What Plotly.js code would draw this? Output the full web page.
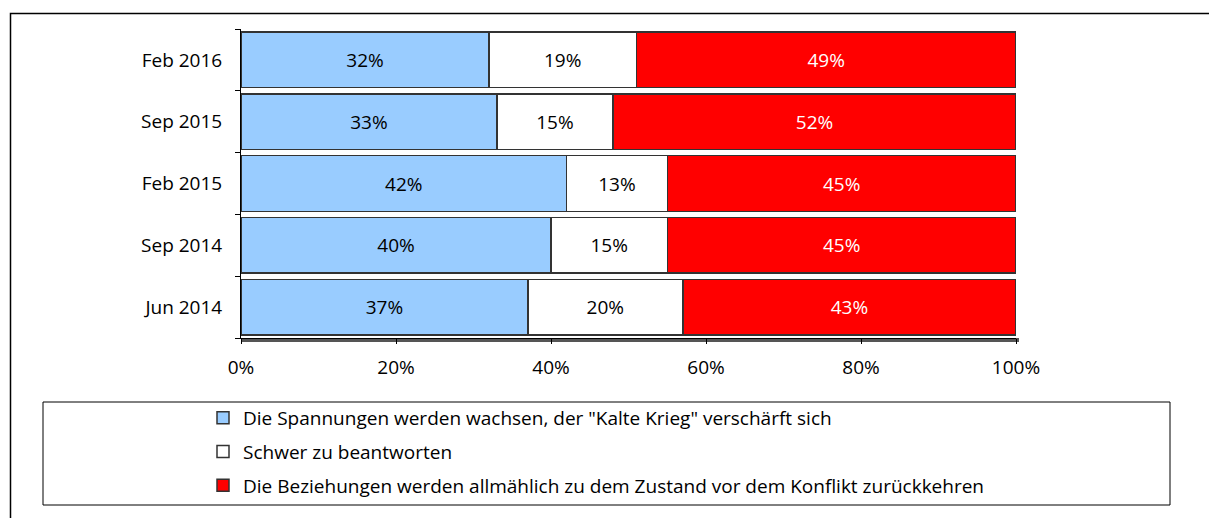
<!DOCTYPE html>
<html><head><meta charset="utf-8">
<script src="https://cdn.plot.ly/plotly-3.0.1.min.js"></script>
<style>body{margin:0;background:#fff}#c{width:1209px;height:518px}</style>
</head><body><div id="c"></div>
<script>
const categories = ["Feb 2016", "Sep 2015", "Feb 2015", "Sep 2014", "Jun 2014"];
const seriesNames = [
  "Die Spannungen werden wachsen, der \"Kalte Krieg\" verschärft sich",
  "Schwer zu beantworten",
  "Die Beziehungen werden allmählich zu dem Zustand vor dem Konflikt zurückkehren"
];
const spannungen = [32, 33, 42, 40, 37];
const schwer = [19, 15, 13, 15, 20];
const beziehungen = [49, 52, 45, 45, 43];
const xTickVals = [0, 20, 40, 60, 80, 100];
const xTickText = ["0%", "20%", "40%", "60%", "80%", "100%"];

const colors = ["#99CCFF", "#FFFFFF", "#FF0000"];
const textColors = ["#000000", "#000000", "#FFFFFF"];
const FONT = "Open Sans, sans-serif";
const FS = 19;
const vals = [spannungen, schwer, beziehungen];

const traces = vals.map((v, i) => ({
  type: "bar", orientation: "h",
  y: categories, x: v, name: seriesNames[i],
  legendgroup: "g" + i,
  text: v.map(d => d + "%"), textposition: "inside", insidetextanchor: "middle",
  textfont: {family: FONT, size: FS, color: textColors[i]},
  marker: {color: colors[i], line: {color: "#333333", width: 1.5}},
  hoverinfo: "skip"
}));

const W = 1209, H = 518, L = 241, R = 193, T = 29, B = 180;
const pw = W - L - R, ph = H - T - B;
const px = x => (x - L) / pw;
const py = y => (H - B - y) / ph;

const layout = {
  width: W, height: H,
  margin: {l: L, r: R, t: T, b: B, pad: 0, autoexpand: false},
  barmode: "stack", bargap: 0.1,
  paper_bgcolor: "#fff", plot_bgcolor: "#fff",
  font: {family: FONT, size: FS, color: "#000"},
  showlegend: true,
  legend: {
    xref: "container", yref: "container",
    x: 203 / W, y: 1 - 399 / H, xanchor: "left", yanchor: "top",
    orientation: "v", traceorder: "grouped", tracegroupgap: 6,
    font: {family: FONT, size: FS, color: "#000"},
    bgcolor: "rgba(0,0,0,0)", borderwidth: 0, itemwidth: 30
  },
  xaxis: {
    range: [0, 100], tickvals: xTickVals, ticktext: xTickText,
    ticks: "outside", ticklen: 5, tickcolor: "#000", tickwidth: 1,
    showgrid: false, zeroline: false, showline: true, linecolor: "#000", linewidth: 1,
    tickfont: {family: FONT, size: FS}, ticklabelstandoff: 7, fixedrange: true
  },
  yaxis: {
    type: "category", categoryorder: "array", categoryarray: categories.slice().reverse(),
    ticks: "outside", tickson: "boundaries", ticklen: 5, tickcolor: "#000",
    showgrid: false, zeroline: false, showline: true, linecolor: "#000", linewidth: 1,
    tickfont: {family: FONT, size: FS}, ticklabelstandoff: 14, fixedrange: true
  },
  shapes: [
    {type: "rect", xref: "paper", yref: "paper", x0: px(10.5), x1: px(1240), y0: py(13.5), y1: py(540),
     line: {color: "#000", width: 1.5}, fillcolor: "rgba(0,0,0,0)", layer: "below"},
    {type: "rect", xref: "paper", yref: "paper", x0: px(43), x1: px(1170), y0: py(402), y1: py(505),
     line: {color: "#000", width: 1}, fillcolor: "rgba(0,0,0,0)"},
    {type: "rect", xref: "paper", yref: "paper", x0: 0, x1: px(1019), y0: py(338), y1: py(342),
     line: {width: 0}, fillcolor: "#555", layer: "below"}
  ]
};
Plotly.newPlot("c", traces, layout, {displayModeBar: false, staticPlot: true});
</script></body></html>
